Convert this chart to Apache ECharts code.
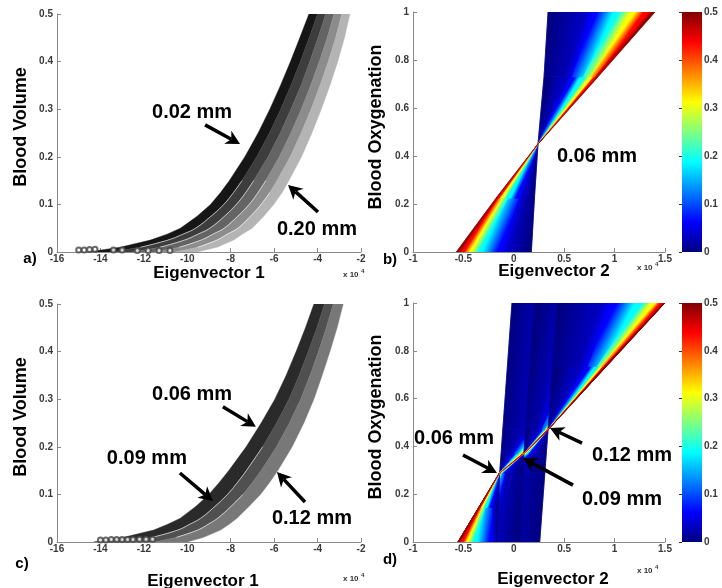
<!DOCTYPE html>
<html><head><meta charset="utf-8">
<script src="https://cdn.jsdelivr.net/npm/echarts@6/dist/echarts.min.js"></script>
<style>html,body{margin:0;padding:0;background:#fff}#c{width:722px;height:588px}</style>
</head><body><div id="c"></div><script>
// ---------- DATA ----------
// Panels a / c : blood volume levels and Eigenvector-1 band boundaries (x1e4)
const bvLevels = [0, 0.01, 0.025, 0.0375, 0.05, 0.075, 0.1, 0.125, 0.15, 0.2, 0.25, 0.3, 0.35, 0.4, 0.45, 0.5];
// panel a : 6 boundaries -> 5 bands (0.02 mm ... 0.20 mm)
const edgeA0 = [-14.6, -13.1, -11.7, -10.93, -10.32, -9.55, -8.93, -8.47, -8.06, -7.35, -6.74, -6.20, -5.71, -5.25, -4.82, -4.40];
const edgeA1 = [-13.54, -12.16, -10.89, -10.20, -9.62, -8.91, -8.32, -7.87, -7.48, -6.80, -6.22, -5.70, -5.23, -4.79, -4.39, -4.00];
const edgeA2 = [-12.53, -11.27, -10.13, -9.51, -8.96, -8.29, -7.74, -7.31, -6.94, -6.28, -5.72, -5.23, -4.76, -4.36, -3.98, -3.63];
const edgeA3 = [-11.52, -10.37, -9.36, -8.82, -8.30, -7.68, -7.15, -6.74, -6.39, -5.76, -5.23, -4.75, -4.32, -3.92, -3.56, -3.25];
const edgeA4 = [-10.56, -9.52, -8.63, -8.16, -7.67, -7.09, -6.60, -6.20, -5.87, -5.26, -4.76, -4.30, -3.89, -3.51, -3.17, -2.89];
const edgeA5 = [-9.55, -8.63, -7.86, -7.47, -7.01, -6.48, -6.02, -5.63, -5.32, -4.74, -4.26, -3.83, -3.43, -3.07, -2.76, -2.51];
// panel c : 4 boundaries -> 3 bands (0.06, 0.09, 0.12 mm)
const edgeC0 = [-14.31, -12.93, -11.55, -10.9, -10.32, -9.6, -9.01, -8.53, -8.09, -7.29, -6.60, -5.97, -5.45, -4.99, -4.56, -4.17];
const edgeC1 = [-12.76, -11.6, -10.44, -9.88, -9.38, -8.72, -8.15, -7.69, -7.28, -6.53, -5.89, -5.32, -4.85, -4.43, -4.03, -3.68];
const edgeC2 = [-11.47, -10.49, -9.52, -9.03, -8.60, -7.98, -7.44, -7.0, -6.60, -5.89, -5.30, -4.78, -4.35, -3.96, -3.60, -3.28];
const edgeC3 = [-10.0, -9.24, -8.47, -8.07, -7.71, -7.15, -6.63, -6.21, -5.83, -5.17, -4.63, -4.17, -3.79, -3.43, -3.10, -2.82];
// open circle markers near baseline
const circlesA = [[-15.0,0.004],[-14.75,0.004],[-14.5,0.005],[-14.25,0.006],[-13.4,0.004],[-13.0,0.004],[-12.3,0.003],[-11.8,0.003],[-11.3,0.003],[-10.8,0.003]];
const circlesC = [[-14.0,0.004],[-13.75,0.004],[-13.5,0.005],[-13.25,0.005],[-13.0,0.005],[-12.75,0.005],[-12.5,0.005],[-12.2,0.006],[-11.9,0.006],[-11.6,0.006]];

// Panels b / d : iso blood-volume lines. rows[r][i] = Eigenvector 2 (x1e4) of BV level i at oxygenation level r
const fanBV = [0, 0.03, 0.0625, 0.1875, 0.3125, 0.4375, 0.5];
// panel b (0.06 mm)
const fanB_lowerOxy = [0, 0.225, 0.45];
const fanB_lower = [
  [0.174, -0.041, -0.14, -0.339, -0.431, -0.504, -0.57],
  [0.205, 0.10, 0.045, -0.06, -0.12, -0.155, -0.175],
  [0.24, 0.24, 0.24, 0.24, 0.24, 0.24, 0.24]
];
const fanB_upperOxy = [0.45, 0.73, 1];
const fanB_upper = [
  [0.24, 0.24, 0.24, 0.24, 0.24, 0.24, 0.24],
  [0.30, 0.52, 0.58, 0.69, 0.77, 0.81, 0.835],
  [0.34, 0.70, 0.80, 1.02, 1.18, 1.315, 1.40]
];
// panel d : 0.06 mm
const fanD06_lowerOxy = [0, 0.145, 0.29];
const fanD06_lower = [
  [-0.17, -0.19, -0.22, -0.39, -0.46, -0.51, -0.554],
  [-0.155, -0.19, -0.22, -0.285, -0.315, -0.335, -0.347],
  [-0.14, -0.14, -0.14, -0.14, -0.14, -0.14, -0.14]
];
const fanD06_upperOxy = [0.29, 0.37, 0.47, 1];
const fanD06_upper = [
  [-0.14, -0.14, -0.14, -0.14, -0.14, -0.14, -0.14],
  [-0.126, -0.03, 0.0, 0.05, 0.075, 0.092, 0.10],
  [-0.109, 0.12, 0.16, 0.25, 0.30, 0.33, 0.34],
  [-0.018, 0.30, 0.70, 1.10, 1.30, 1.43, 1.497]
];
// panel d : 0.09 mm
const fanD09_lowerOxy = [0, 0.29, 0.37];
const fanD09_lower = [
  [0.06, -0.20, -0.26, -0.38, -0.45, -0.50, -0.554],
  [0.091, -0.06, -0.09, -0.12, -0.13, -0.137, -0.14],
  [0.10, 0.10, 0.10, 0.10, 0.10, 0.10, 0.10]
];
const fanD09_upperOxy = [0.37, 0.47, 1];
const fanD09_upper = [
  [0.10, 0.10, 0.10, 0.10, 0.10, 0.10, 0.10],
  [0.117, 0.25, 0.28, 0.31, 0.325, 0.335, 0.34],
  [0.207, 0.55, 0.85, 1.15, 1.33, 1.45, 1.497]
];
// panel d : 0.12 mm
const fanD12_lowerOxy = [0, 0.29, 0.37, 0.47];
const fanD12_lower = [
  [0.257, -0.10, -0.18, -0.34, -0.43, -0.50, -0.554],
  [0.308, 0.0, -0.05, -0.10, -0.125, -0.135, -0.14],
  [0.322, 0.20, 0.16, 0.13, 0.115, 0.105, 0.10],
  [0.34, 0.34, 0.34, 0.34, 0.34, 0.34, 0.34]
];
const fanD12_upperOxy = [0.47, 0.735, 1];
const fanD12_upper = [
  [0.34, 0.34, 0.34, 0.34, 0.34, 0.34, 0.34],
  [0.385, 0.66, 0.74, 0.83, 0.87, 0.895, 0.905],
  [0.43, 0.85, 0.98, 1.25, 1.39, 1.465, 1.497]
];

// tick values
const eig1Ticks = [-16, -14, -12, -10, -8, -6, -4, -2];
const volTicks = [0, 0.1, 0.2, 0.3, 0.4, 0.5];
const eig2Ticks = [-1, -0.5, 0, 0.5, 1, 1.5];
const oxyTicks = [0, 0.2, 0.4, 0.6, 0.8, 1];
const cbTicks = [0, 0.1, 0.2, 0.3, 0.4, 0.5];

// annotations (data coordinates of their grid)
const notes = [
  {grid:0, text:'0.02 mm', at:[-9.78, 0.294], tail:[-9.18, 0.267], tip:[-7.57, 0.227]},
  {grid:0, text:'0.20 mm', at:[-4.03, 0.048], tail:[-3.98, 0.084], tip:[-5.36, 0.141]},
  {grid:1, text:'0.06 mm', at:[0.825, 0.396]},
  {grid:2, text:'0.06 mm', at:[-9.78, 0.309], tail:[-8.36, 0.284], tip:[-6.84, 0.242]},
  {grid:2, text:'0.09 mm', at:[-11.86, 0.176], tail:[-10.34, 0.145], tip:[-8.82, 0.086]},
  {grid:2, text:'0.12 mm', at:[-4.26, 0.050], tail:[-4.58, 0.084], tip:[-5.87, 0.147]},
  {grid:3, text:'0.06 mm', at:[-0.593, 0.435], tail:[-0.504, 0.364], tip:[-0.167, 0.289]},
  {grid:3, text:'0.12 mm', at:[1.173, 0.360], tail:[0.677, 0.414], tip:[0.359, 0.477]},
  {grid:3, text:'0.09 mm', at:[1.073, 0.176], tail:[0.587, 0.238], tip:[0.091, 0.351]}
];

// ---------- STYLE / RENDER ----------
const FONT = '"Liberation Sans", Arial, sans-serif';
const grayA = ['#161616', '#3d3d3d', '#646464', '#8c8c8c', '#b4b4b4'];
const grayC = ['#2a2a2a', '#505050', '#787878'];
const AX = '#8a8a8a';

function jet(v) {
  v = Math.max(0, Math.min(1, v));
  const f = t => Math.round(255 * Math.max(0, Math.min(1, 1.5 - Math.abs(t))));
  return 'rgb(' + f(4*v-3) + ',' + f(4*v-2) + ',' + f(4*v-1) + ')';
}

function valueAxis(gi, ticks, isX, extra) {
  const o = {
    type:'value', gridIndex: gi, min: ticks[0], max: ticks[ticks.length-1],
    interval: +(ticks[1]-ticks[0]).toFixed(4), scale:true,
    axisLine:{show:true, onZero:false, lineStyle:{color:AX, width:1}},
    axisTick:{show:true, inside:true, length:4, lineStyle:{color:AX}},
    splitLine:{show:false},
    axisLabel:{color:'#3a3a3a', fontSize:10, fontWeight:'bold', fontFamily:FONT, margin: isX ? 2 : 4,
      formatter: v => String(+v.toFixed(2))}
  };
  return Object.assign(o, extra || {});
}

function bandSeries(gi, edges, colors) {
  const L = bvLevels.length;
  return {
    type:'custom', xAxisIndex:gi, yAxisIndex:gi, clip:true, z:2,
    data: colors.map((c, i) => [edges[i][L-1], bvLevels[L-1]]),
    renderItem(params, api) {
      const k = params.dataIndex, pts = [];
      for (let j = 0; j < L; j++) pts.push(api.coord([edges[k][j], bvLevels[j]]));
      for (let j = L-1; j >= 0; j--) pts.push(api.coord([edges[k+1][j], bvLevels[j]]));
      return {type:'polygon', shape:{points:pts, smooth:0}, style:{fill:colors[k], stroke:colors[k], lineWidth:0.4}};
    }
  };
}

// thin white separation lines along the lower part of inner boundaries
function gapLines(gi, edge, yMax, z) {
  const pts = [];
  for (let j = 0; j < bvLevels.length; j++) if (bvLevels[j] >= 0.01 && bvLevels[j] <= yMax) pts.push([edge[j], bvLevels[j]]);
  return {type:'line', xAxisIndex:gi, yAxisIndex:gi, data:pts, symbol:'none', smooth:true, z:z || 3, silent:true,
    lineStyle:{color:'#ffffff', width:0.8, opacity:0.75}};
}

function circleSeries(gi, pts) {
  return {type:'scatter', xAxisIndex:gi, yAxisIndex:gi, data:pts, symbol:'emptyCircle', symbolSize:5,
    itemStyle:{color:'#444', borderWidth:1}, z:4, silent:true};
}

// fan part: quads between consecutive oxygenation rows and consecutive BV levels, jet-coloured
function fanPart(gi, oxy, rows, z) {
  const items = [];
  for (let r = 0; r < oxy.length-1; r++) for (let i = 0; i < fanBV.length-1; i++) items.push([r, i]);
  return {
    type:'custom', xAxisIndex:gi, yAxisIndex:gi, clip:true, z:z, silent:true,
    data: items.map(it => [rows[it[0]][it[1]], oxy[it[0]]]),
    renderItem(params, api) {
      const r = items[params.dataIndex][0], i = items[params.dataIndex][1];
      const a = api.coord([rows[r][i], oxy[r]]), b = api.coord([rows[r+1][i], oxy[r+1]]);
      const c = api.coord([rows[r][i+1], oxy[r]]), d = api.coord([rows[r+1][i+1], oxy[r+1]]);
      let dx = (b[0]-a[0]) + (d[0]-c[0]), dy = (b[1]-a[1]) + (d[1]-c[1]);
      const L = Math.hypot(dx, dy) || 1; dx /= L; dy /= L;
      const nx = -dy, ny = dx;
      const m1 = [(a[0]+b[0])/2, (a[1]+b[1])/2], m2 = [(c[0]+d[0])/2, (c[1]+d[1])/2];
      const s = (m2[0]-m1[0])*nx + (m2[1]-m1[1])*ny;
      const c1 = jet(fanBV[i]/0.5), c2 = jet(fanBV[i+1]/0.5);
      let fill = c1;
      if (Math.abs(s) > 0.3) {
        fill = new echarts.graphic.LinearGradient(m1[0], m1[1], m1[0]+nx*s, m1[1]+ny*s,
          [{offset:0, color:c1}, {offset:1, color:c2}], true);
      }
      return {type:'polygon', shape:{points:[a, c, d, b]}, style:{fill:fill, stroke:fill, lineWidth:0.6}};
    }
  };
}

function colorbar(gi) {
  return {
    type:'custom', xAxisIndex:gi, yAxisIndex:gi, z:2, silent:true, data:[[0, cbTicks[cbTicks.length-1]]],
    renderItem(params, api) {
      const a = api.coord([0, cbTicks[0]]), b = api.coord([1, cbTicks[cbTicks.length-1]]);
      const stops = [0, 0.125, 0.375, 0.625, 0.875, 1].map(o => ({offset:o, color:jet(o)}));
      return {type:'rect', shape:{x:a[0], y:b[1], width:b[0]-a[0], height:a[1]-b[1]},
        style:{fill:new echarts.graphic.LinearGradient(0, 1, 0, 0, stops)}};
    }
  };
}

const grids = [
  {left:57, top:14, width:304, height:238},
  {left:413, top:12, width:252, height:240},
  {left:57, top:304, width:304, height:238},
  {left:413, top:303, width:252, height:239},
  {left:682, top:12, width:20, height:240},
  {left:682, top:303, width:20, height:239}
];

const cbX = gi => ({type:'value', gridIndex:gi, min:0, max:1, show:false});
const cbY = gi => valueAxis(gi, cbTicks, false, {position:'right',
  axisLine:{show:false}, axisTick:{show:true, inside:true, length:3, lineStyle:{color:'#333'}},
  axisLabel:{color:'#3a3a3a', fontSize:10, fontWeight:'bold', fontFamily:FONT, margin:2, formatter: v => String(+v.toFixed(2))}});

const option = {
  animation:false,
  backgroundColor:'#fff',
  grid: grids,
  xAxis: [valueAxis(0, eig1Ticks, true), valueAxis(1, eig2Ticks, true), valueAxis(2, eig1Ticks, true),
          valueAxis(3, eig2Ticks, true), cbX(4), cbX(5)],
  yAxis: [valueAxis(0, volTicks, false), valueAxis(1, oxyTicks, false), valueAxis(2, volTicks, false),
          valueAxis(3, oxyTicks, false), cbY(4), cbY(5)],
  series: [
    bandSeries(0, [edgeA0, edgeA1, edgeA2, edgeA3, edgeA4, edgeA5], grayA),
    gapLines(0, edgeA1, 0.15), gapLines(0, edgeA2, 0.15), gapLines(0, edgeA3, 0.15), gapLines(0, edgeA4, 0.125),
    circleSeries(0, circlesA),
    bandSeries(2, [edgeC0, edgeC1, edgeC2, edgeC3], grayC),
    gapLines(2, edgeC1, 0.2), gapLines(2, edgeC2, 0.1),
    circleSeries(2, circlesC),
    fanPart(1, fanB_lowerOxy, fanB_lower, 2),
    fanPart(1, fanB_upperOxy, fanB_upper, 2),
    fanPart(3, fanD12_lowerOxy, fanD12_lower, 2),
    fanPart(3, fanD09_lowerOxy, fanD09_lower, 3),
    fanPart(3, fanD06_lowerOxy, fanD06_lower, 4),
    fanPart(3, fanD06_upperOxy, fanD06_upper, 5),
    fanPart(3, fanD09_upperOxy, fanD09_upper, 6),
    fanPart(3, fanD12_upperOxy, fanD12_upper, 7),
    colorbar(4),
    colorbar(5)
  ]
};

const chart = echarts.init(document.getElementById('c'));
chart.setOption(option);

// ---------- annotations & titles ----------
function txt(x, y, text, size, rot) {
  return {type:'text', x:x, y:y, rotation: rot || 0, z:100,
    style:{text:text, fontSize:size, fontWeight:'bold', fontFamily:FONT, fill:'#000', align:'center', verticalAlign:'middle'}};
}
function arrowEls(T, P) {
  const dx = P[0]-T[0], dy = P[1]-T[1], L = Math.hypot(dx, dy), ux = dx/L, uy = dy/L, nx = -uy, ny = ux;
  const h = 14, w = 7.5, notch = 10;
  const bx = P[0]-ux*h, by = P[1]-uy*h, kx = P[0]-ux*notch, ky = P[1]-uy*notch;
  return [
    {type:'line', z:100, shape:{x1:T[0], y1:T[1], x2:kx, y2:ky}, style:{stroke:'#000', lineWidth:3.5}},
    {type:'polygon', z:100, shape:{points:[[P[0],P[1]], [bx+nx*w, by+ny*w], [kx, ky], [bx-nx*w, by-ny*w]]}, style:{fill:'#000'}}
  ];
}
const els = [];
notes.forEach(n => {
  const p = chart.convertToPixel({gridIndex:n.grid}, n.at);
  els.push(txt(p[0], p[1], n.text, 20));
  if (n.tail) {
    const T = chart.convertToPixel({gridIndex:n.grid}, n.tail);
    const P = chart.convertToPixel({gridIndex:n.grid}, n.tip);
    els.push(...arrowEls(T, P));
  }
});
els.push(txt(21, 127, 'Blood Volume', 18, Math.PI/2));
els.push(txt(21, 417, 'Blood Volume', 18, Math.PI/2));
els.push(txt(376, 127, 'Blood Oxygenation', 18, Math.PI/2));
els.push(txt(376, 417, 'Blood Oxygenation', 18, Math.PI/2));
els.push(txt(209, 273, 'Eigenvector 1', 17));
els.push(txt(203, 581, 'Eigenvector 1', 17));
els.push(txt(554, 271, 'Eigenvector 2', 17));
els.push(txt(553, 579, 'Eigenvector 2', 17));
els.push(txt(30, 259, 'a)', 15));
els.push(txt(390, 260, 'b)', 15));
els.push(txt(22, 564, 'c)', 15));
els.push(txt(390, 560, 'd)', 15));
function x10(x, y) {
  els.push({type:'text', x:x, y:y, z:100, style:{text:'x 10', fontSize:8, fontWeight:'bold', fontFamily:FONT, fill:'#333', align:'left', verticalAlign:'middle'}});
  els.push({type:'text', x:x+18, y:y-4, z:100, style:{text:'4', fontSize:6, fontWeight:'bold', fontFamily:FONT, fill:'#333', align:'left', verticalAlign:'middle'}});
}
x10(343, 275); x10(637, 268); x10(343, 579); x10(637, 571);
chart.setOption({graphic: els});
</script></body></html>
